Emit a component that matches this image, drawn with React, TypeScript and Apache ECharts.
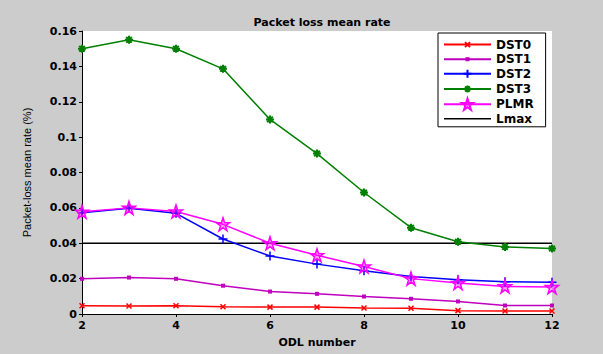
import React, { useEffect, useRef } from "react";
import * as echarts from "echarts";

const odl = [2, 3, 4, 5, 6, 7, 8, 9, 10, 11, 12];
const dst0 = [0.0047, 0.0045, 0.0047, 0.0041, 0.0039, 0.0039, 0.0034, 0.0032, 0.0019, 0.0017, 0.0017];
const dst1 = [0.0199, 0.0206, 0.0199, 0.016, 0.0127, 0.0114, 0.0099, 0.0086, 0.0071, 0.0048, 0.0048];
const dst2 = [0.0572, 0.0598, 0.0569, 0.0424, 0.0328, 0.0282, 0.0244, 0.0212, 0.0193, 0.0182, 0.018];
const dst3 = [0.150, 0.155, 0.150, 0.1386, 0.110, 0.0907, 0.0687, 0.0488, 0.0409, 0.0379, 0.037];
const plmr = [0.0578, 0.060, 0.058, 0.0507, 0.040, 0.0332, 0.0268, 0.020, 0.0175, 0.0156, 0.0152];
const lmax = [0.04, 0.04, 0.04, 0.04, 0.04, 0.04, 0.04, 0.04, 0.04, 0.04, 0.04];

const seriesNames = ["DST0", "DST1", "DST2", "DST3", "PLMR", "Lmax"];

// symbols padded with invisible move-to points so legend icons get sensible sizes
const SYM_X = "path://M-5,-5M13,13M0,0L8,8M8,0L0,8";
const SYM_DOT = "path://M-2.75,-2.75M2.75,2.75M-1,-1L1,-1L1,1L-1,1Z";
const SYM_PLUS = "path://M-1.6,-1.6M9.6,9.6M4,0L4,8M0,4L8,4";
const SYM_AST = "path://M-2.4,-2.4M10.4,10.4M4,0L4,8M0,4L8,4M1.2,1.2L6.8,6.8M6.8,1.2L1.2,6.8";
const SYM_STAR =
  "path://M10,0L12.25,6.91L19.51,6.91L13.63,11.18L15.88,18.09L10,13.82L4.12,18.09L6.37,11.18L0.49,6.91L7.75,6.91Z";
const ICON_LINE = "path://M0,0L47,0L47,1.5L0,1.5Z";

const FONT = "DejaVu Sans";

function pairs(vals: number[]) {
  return odl.map((x, i) => [x, vals[i]]);
}

export default function App() {
  const ref = useRef<HTMLDivElement>(null);
  useEffect(() => {
    if (!ref.current) return;
    const chart = echarts.init(ref.current, undefined, { renderer: "svg" });
    const mk = (
      name: string,
      vals: number[],
      color: string,
      symbol: string,
      size: number,
      fill: string,
      bw: number
    ) => ({
      name,
      type: "line",
      data: pairs(vals),
      symbol,
      symbolSize: size,
      showSymbol: true,
      lineStyle: { color, width: 1.5 },
      itemStyle: { color: fill, borderColor: color, borderWidth: bw },
      emphasis: { disabled: true },
      z: 3,
    });
    chart.setOption({
      animation: false,
      backgroundColor: "#cccccc",
      title: {
        text: "Packet loss mean rate",
        left: 317,
        textAlign: "center",
        top: 12,
        textStyle: { fontFamily: FONT, fontSize: 11, fontWeight: "bold", color: "#000" },
      },
      grid: {
        left: 82,
        right: 51,
        top: 31,
        bottom: 40,
        show: true,
        backgroundColor: "#ffffff",
        borderWidth: 0,
      },
      legend: {
        data: seriesNames.map((n) => (n === "Lmax" ? { name: n, icon: ICON_LINE } : { name: n })),
        orient: "vertical",
        left: 438,
        top: 33,
        itemWidth: 47,
        itemHeight: 14,
        itemGap: 2,
        padding: [5, 12, 2, 5],
        backgroundColor: "#ffffff",
        borderColor: "#000000",
        borderWidth: 1,
        borderRadius: 0,
        textStyle: { fontFamily: FONT, fontSize: 12, fontWeight: "bold", color: "#000" },
      },
      xAxis: {
        type: "value",
        min: 2,
        max: 12,
        interval: 2,
        name: "ODL number",
        nameLocation: "middle",
        nameGap: 23,
        nameTextStyle: { fontFamily: FONT, fontSize: 11, fontWeight: "bold", color: "#000" },
        axisLine: { show: true, lineStyle: { color: "#000", width: 1 } },
        axisTick: { show: true, inside: false, length: 3, lineStyle: { color: "#000" } },
        axisLabel: { fontFamily: FONT, fontSize: 11, fontWeight: "bold", color: "#000", margin: 6 },
        splitLine: { show: false },
      },
      yAxis: {
        type: "value",
        min: 0,
        max: 0.16,
        interval: 0.02,
        name: "Packet-loss mean rate (%)",
        nameLocation: "middle",
        nameGap: 50,
        nameTextStyle: { fontFamily: "Liberation Sans", fontSize: 11, color: "#000" },
        axisLine: { show: true, lineStyle: { color: "#000", width: 1 } },
        axisTick: { show: true, inside: false, length: 3, lineStyle: { color: "#000" } },
        axisLabel: { fontFamily: FONT, fontSize: 11, fontWeight: "bold", color: "#000", margin: 5 },
        splitLine: { show: false },
      },
      series: [
        mk("DST0", dst0, "#ff0000", SYM_X, 11.25, "#ff0000", 1.5),
        mk("DST1", dst1, "#bf00bf", SYM_DOT, 11, "#bf00bf", 0),
        mk("DST2", dst2, "#0000ff", SYM_PLUS, 12.6, "#0000ff", 1.5),
        mk("DST3", dst3, "#008000", SYM_AST, 12.8, "#008000", 2),
        mk("PLMR", plmr, "#ff00ff", SYM_STAR, 13, "rgba(255,0,255,0.35)", 1.5),
        {
          name: "Lmax",
          type: "line",
          data: pairs(lmax),
          symbol: "none",
          showSymbol: false,
          lineStyle: { color: "#000000", width: 1.5 },
          itemStyle: { color: "#000000" },
          emphasis: { disabled: true },
          z: 2,
        },
      ],
    });
    return () => chart.dispose();
  }, []);
  return (
    <div
      ref={ref}
      style={{ position: "fixed", left: 0, top: 0, width: 603, height: 354 }}
    />
  );
}
